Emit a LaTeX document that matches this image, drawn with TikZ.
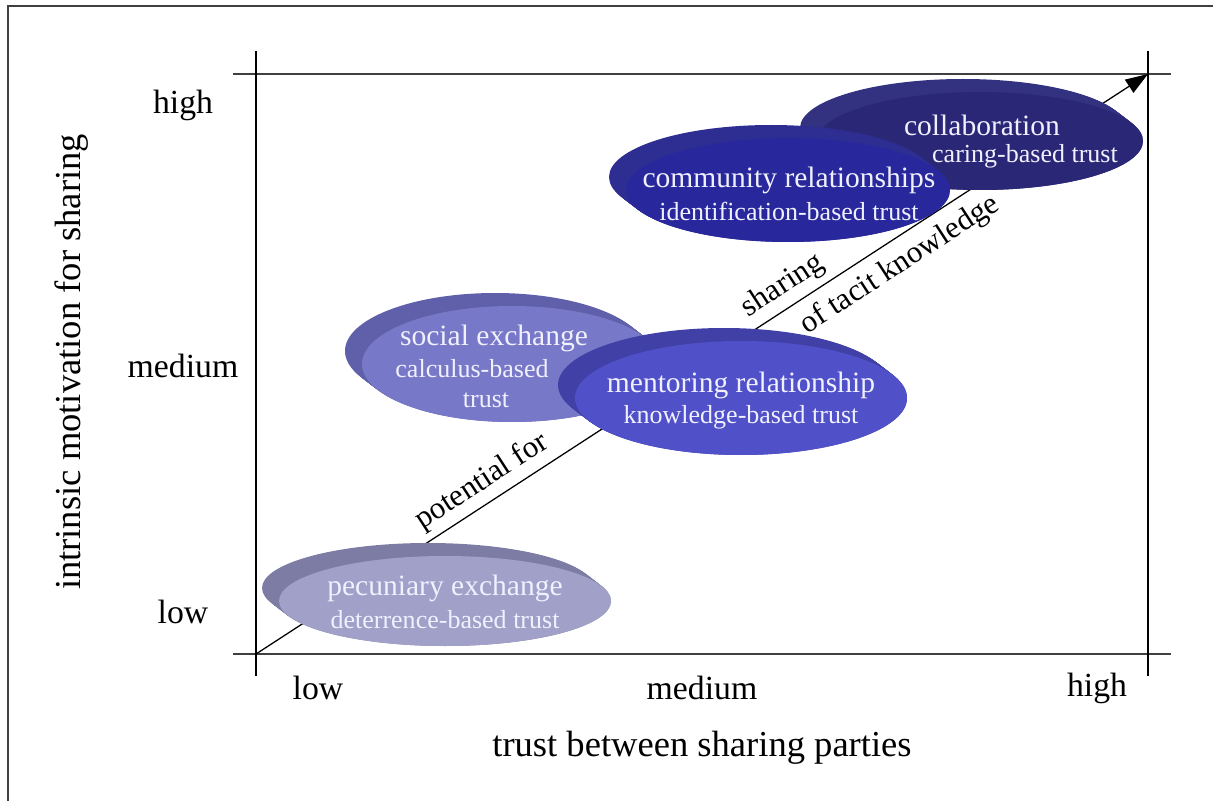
\documentclass[tikz,border=0pt]{standalone}
\usepackage{fontspec}
\setmainfont{Liberation Serif}
\usepackage{xcolor}
\usetikzlibrary{arrows.meta}

\definecolor{pecfront}{RGB}{160,160,200}
\definecolor{pecside}{RGB}{124,124,164}
\definecolor{socfront}{RGB}{120,120,200}
\definecolor{socside}{RGB}{96,96,170}
\definecolor{menfront}{RGB}{80,80,200}
\definecolor{menside}{RGB}{64,64,166}
\definecolor{comfront}{RGB}{40,40,156}
\definecolor{comside}{RGB}{46,46,146}
\definecolor{colfront}{RGB}{42,40,118}
\definecolor{colside}{RGB}{50,50,128}
\definecolor{axisgray}{RGB}{64,64,64}

\begin{document}
\begin{tikzpicture}[x=0.025cm, y=-0.025cm,
    axisline/.style={line width=1.4pt, color=axisgray},
    tickline/.style={line width=1pt, color=black},
    ticklabel/.style={font=\fontsize{24}{28}\selectfont},
    axistitle/.style={font=\fontsize{26}{30}\selectfont},
    bigline/.style={font=\fontsize{21}{24}\selectfont, text=white!94!blue, inner sep=0pt},
    smallline/.style={font=\fontsize{18.5}{22}\selectfont, text=white!94!blue, inner sep=0pt},
    alonglabel/.style={font=\fontsize{22}{26}\selectfont, rotate=33, inner sep=0pt}]
    \useasboundingbox (0,0) rectangle (1213,801);

    % frame (cut at right and bottom)
    \draw[axisline] (8,801) -- (8,6) -- (1213,6);

    \coordinate (origin) at (256,654);
    \coordinate (corner) at (1148,74);

    % axes
    \draw[axisline] (233,654) -- (1171,654);
    \draw[axisline] (233,74) -- (1171,74);
    \draw[tickline] (256,51) -- (256,676);
    \draw[tickline] (1148,51) -- (1148,676);

    \draw[-{Triangle[length=16pt,width=11pt]}, line width=0.9pt] (origin) -- (corner);

    % discs: back copies, then front
    \foreach \cx/\cy/\rx/\ry/\side/\front in
        {445/601/166/45/pecside/pecfront,
         512/364/150/58/socside/socfront,
         741/398/166/57/menside/menfront,
         980/141/163/49/colside/colfront,
         788/190/162/52/comside/comfront} {
        \foreach \k in {0,1,...,16} {
            \fill[\side] ({\cx-17+17*\k/16},{\cy-13+13*\k/16}) ellipse ({\rx} and {\ry});
        }
        \fill[\front] (\cx,\cy) ellipse ({\rx} and {\ry});
    }

    % disc texts
    \node[bigline] (pec1) at (445,588) {pecuniary exchange};
    \node[smallline] (pec2) at (445,620) {deterrence-based trust};
    \node[bigline] (soc1) at (494,338) {social exchange};
    \node[smallline] (soc2) at (472,369) {calculus-based};
    \node[smallline] (soc3) at (486,400) {trust};
    \node[bigline] (men1) at (741,385) {mentoring relationship};
    \node[smallline] (men2) at (741,417) {knowledge-based trust};
    \node[bigline] (com1) at (789,180) {community relationships};
    \node[smallline] (com2) at (789,211) {identification-based trust};
    \node[bigline] (col1) at (982,125) {collaboration};
    \node[smallline] (col2) at (1025,156) {caring-based trust};

    % labels along the arrow
    \node[alonglabel] (potential) at (482,482) {potential for};
    \node[alonglabel] (sharing) at (783,286) {sharing};
    \node[alonglabel] (tacit) at (900,265) {of tacit knowledge};

    % tick labels
    \node[ticklabel] (ylow) at (183,612) {low};
    \node[ticklabel] (ymed) at (183,366) {medium};
    \node[ticklabel] (yhigh) at (183,105) {high};
    \node[ticklabel] (xlow) at (318,688) {low};
    \node[ticklabel] (xmed) at (702,688) {medium};
    \node[ticklabel] (xhigh) at (1097,688) {high};

    % axis titles
    \node[axistitle] (xtitle) at (702,748) {trust between sharing parties};
    \node[axistitle, rotate=90] (ytitle) at (72,362) {intrinsic motivation for sharing};
\end{tikzpicture}
\end{document}
